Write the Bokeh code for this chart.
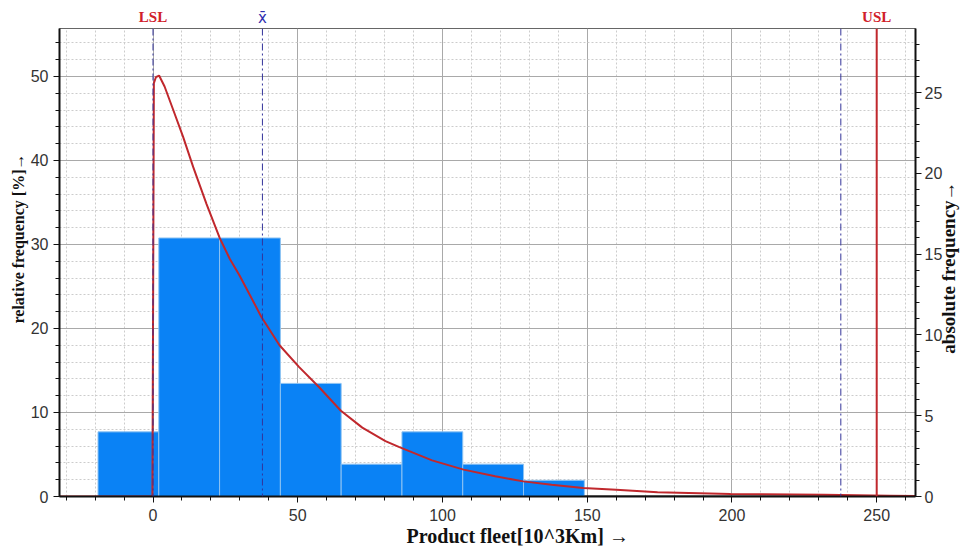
import math
from bokeh.plotting import figure
from bokeh.models import (Range1d, LinearAxis, Span, SingleIntervalTicker,
                          FixedTicker, Title)
from bokeh.embed import file_html
from bokeh.resources import INLINE

# ---- data ----
bin_edges = [-19, 2, 23, 44, 65, 86, 107, 128, 149, 170, 191, 212, 233, 254]
counts = [4, 16, 16, 7, 2, 4, 2, 1, 0, 0, 0, 0, 0]
n_total = 52

curve_x = [-33, -0.2, 0.3, 1.0, 2.1, 4.0, 7.0, 10.4, 13.9, 18.5, 23.0, 26.5, 29.9,
           37.4, 43.7, 50.5, 57.4, 64.9, 72.3, 80.3, 84.9, 96.4, 107.3, 118.2,
           127.9, 137.7, 148.6, 160.0, 174.3, 199.5, 231.7, 254.5, 264]
curve_y = [0.0, 0.0, 49.2, 49.9, 50.1, 48.8, 46.0, 42.8, 39.2, 34.8, 30.8, 28.3, 26.3,
           21.4, 18.0, 15.4, 13.0, 10.2, 8.2, 6.6, 5.9, 4.3, 3.2, 2.4,
           1.8, 1.4, 1.0, 0.8, 0.5, 0.3, 0.2, 0.1, 0.05]

LSL = 0
USL = 250
x_mean = 37.8
x_upper = 237.6

x_lo, x_hi = -32.3, 263.4
y_hi = 55.7

x_title = "Product fleet[10^3Km] \u2192"
y_title = "relative frequency [%]\u2192"
y2_title = "absolute frequency\u2192"

# ---- derived ----
rel = [c / n_total * 100 for c in counts]
left_edges = bin_edges[:-1]
right_edges = bin_edges[1:]
nz = [i for i, c in enumerate(counts) if c > 0]
zz = [i for i, c in enumerate(counts) if c == 0]

p = figure(width=972, height=551, output_backend="svg", toolbar_location=None,
           x_range=Range1d(x_lo, x_hi), y_range=Range1d(0, y_hi),
           min_border_left=59, min_border_right=53, min_border_top=28, min_border_bottom=55)
p.extra_y_ranges = {"abs": Range1d(0, y_hi * n_total / 100)}

p.background_fill_color = "white"
p.border_fill_color = "white"
p.outline_line_color = "#666666"
p.outline_line_width = 1

xt = SingleIntervalTicker(interval=50, num_minor_ticks=5)
yt = SingleIntervalTicker(interval=10, num_minor_ticks=5)
p.xaxis.ticker = xt
p.yaxis.ticker = yt
p.xgrid.ticker = xt
p.ygrid.ticker = yt

for g in (p.xgrid, p.ygrid):
    g.grid_line_color = "#a9a9a9"
    g.grid_line_width = 1
    g.minor_grid_line_color = "#cccccc"
    g.minor_grid_line_dash = "2 2"
    g.minor_grid_line_width = 1

# bars
p.quad(left=[left_edges[i] for i in nz], right=[right_edges[i] for i in nz],
       top=[rel[i] for i in nz], bottom=0,
       fill_color="#0A82F5", line_color="#8EC3F2", line_width=1)
p.quad(left=[left_edges[i] for i in zz], right=[right_edges[i] for i in zz],
       top=[rel[i] for i in zz], bottom=0,
       fill_color="#222222", line_color="#222222", line_width=2)

# fitted curve
p.line(curve_x, curve_y, line_color="#C0282D", line_width=2)

# reference lines
for loc in (LSL, x_mean, x_upper):
    p.add_layout(Span(location=loc, dimension="height", line_color="#33339a",
                      line_dash="7 3 2 3", line_width=1))
p.add_layout(Span(location=USL, dimension="height", line_color="#C0282D",
                  line_width=2))

# axes styling
def style_axis(ax):
    ax.axis_line_color = "#111111"
    ax.axis_line_width = 2
    ax.major_tick_line_color = "#111111"
    ax.minor_tick_line_color = "#111111"
    ax.major_tick_in = 0
    ax.major_tick_out = 6
    ax.minor_tick_in = 0
    ax.minor_tick_out = 4
    ax.major_label_text_font = "Liberation Sans"
    ax.major_label_text_font_size = "16px"
    ax.major_label_text_color = "#333333"

def text_axis(ax, font, size, color, bold=True):
    ax.axis_line_color = None
    ax.major_tick_line_color = None
    ax.minor_tick_line_color = None
    ax.major_tick_out = 0
    ax.major_tick_in = 0
    ax.minor_tick_out = 0
    ax.minor_tick_in = 0
    ax.major_label_text_font = font
    ax.major_label_text_font_size = size
    ax.major_label_text_color = color
    ax.major_label_text_font_style = "bold" if bold else "normal"

style_axis(p.xaxis[0])
style_axis(p.yaxis[0])
p.xaxis.major_label_standoff = 6
p.yaxis.major_label_standoff = 5

right = LinearAxis(y_range_name="abs",
                   ticker=SingleIntervalTicker(interval=5, num_minor_ticks=5))
style_axis(right)
right.major_label_standoff = 3
p.add_layout(right, "right")

# right axis title, reading bottom-to-top (text starts at the tick)
right_t = LinearAxis(ticker=FixedTicker(ticks=[17.0], minor_ticks=[]),
                     major_label_overrides={17.0: y2_title})
text_axis(right_t, "Liberation Serif", "19px", "#111111")
right_t.major_label_orientation = math.pi / 2
right_t.major_label_standoff = 3
p.add_layout(right_t, "right")

# left axis title
p.add_layout(Title(text=y_title, align="left", offset=173, standoff=2,
                   text_font="Liberation Serif", text_font_style="bold",
                   text_font_size="16px", text_color="#111111"), "left")

# bottom axis title (offset to the right, as in the reference)
bottom_t = LinearAxis(ticker=FixedTicker(ticks=[126.0], minor_ticks=[]),
                      major_label_overrides={126.0: x_title})
text_axis(bottom_t, "Liberation Serif", "20px", "#111111")
bottom_t.major_label_standoff = 1
p.add_layout(bottom_t, "below")

# top labels: LSL / USL (red) and x-bar (blue) on one row
top_a = LinearAxis(ticker=FixedTicker(ticks=[LSL, USL], minor_ticks=[]),
                   major_label_overrides={LSL: "LSL", USL: "USL"})
text_axis(top_a, "Liberation Serif", "15px", "#D0202A")
top_a.major_label_standoff = 4
p.add_layout(top_a, "above")

top_b = LinearAxis(ticker=FixedTicker(ticks=[x_mean], minor_ticks=[]),
                   major_label_overrides={x_mean: "x\u0304"})
text_axis(top_b, "DejaVu Sans", "15px", "#3030B0", bold=False)
top_b.major_label_standoff = -21
p.add_layout(top_b, "above")

open("out.html", "w").write(file_html(p, INLINE))
